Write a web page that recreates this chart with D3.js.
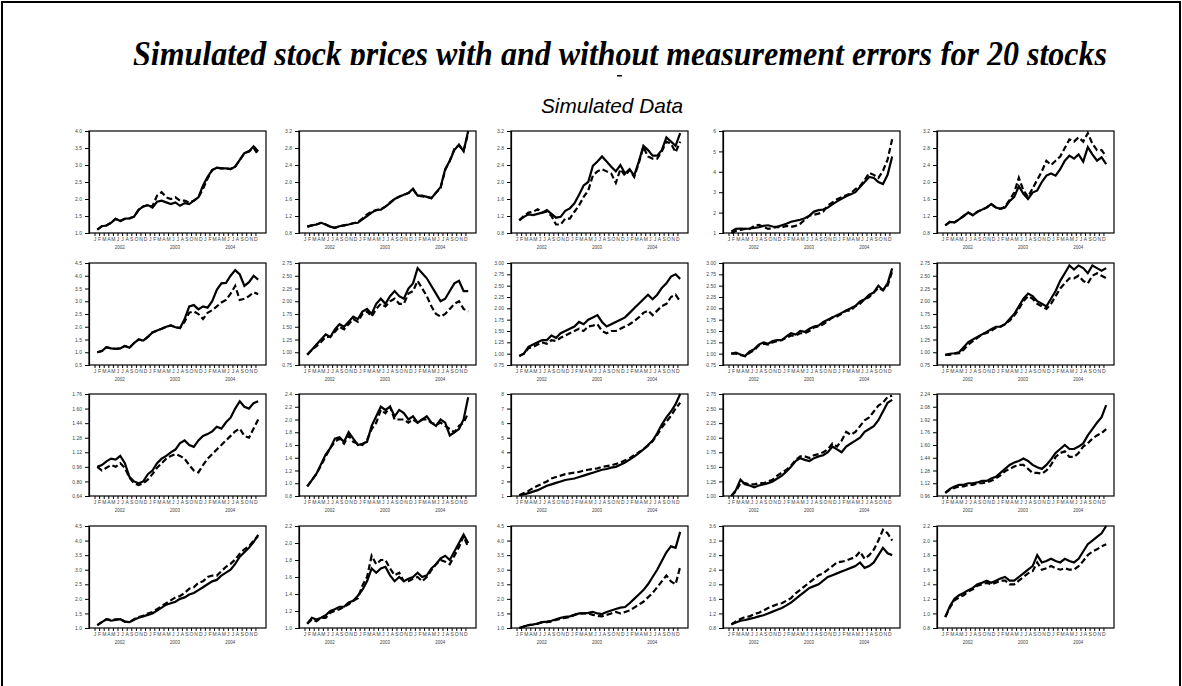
<!DOCTYPE html>
<html>
<head>
<meta charset="utf-8">
<script src="https://cdn.jsdelivr.net/npm/d3@7/dist/d3.min.js"></script>
<style>
  body { margin: 0; background: #fff; }
  text { font-family: "Liberation Sans", Arial, sans-serif; }
</style>
</head>
<body>
<svg id="chart" width="1182" height="686"></svg>
<script>
var months = ["J","F","M","A","M","J","J","A","S","O","N","D"];
var years = ["2002","2003","2004"];

// y tick values of the 20 panels (row by row)
var yTicks = [
  [1.0,1.5,2.0,2.5,3.0,3.5,4.0],
  [0.8,1.2,1.6,2.0,2.4,2.8,3.2],
  [0.8,1.2,1.6,2.0,2.4,2.8,3.2],
  [1,2,3,4,5,6],
  [0.8,1.2,1.6,2.0,2.4,2.8,3.2],
  [0.5,1.0,1.5,2.0,2.5,3.0,3.5,4.0,4.5],
  [0.75,1.00,1.25,1.50,1.75,2.00,2.25,2.50,2.75],
  [0.75,1.00,1.25,1.50,1.75,2.00,2.25,2.50,2.75,3.00],
  [0.75,1.00,1.25,1.50,1.75,2.00,2.25,2.50,2.75,3.00],
  [0.75,1.00,1.25,1.50,1.75,2.00,2.25,2.50,2.75],
  [0.64,0.80,0.96,1.12,1.28,1.44,1.60,1.76],
  [0.8,1.0,1.2,1.4,1.6,1.8,2.0,2.2,2.4],
  [1,2,3,4,5,6,7,8],
  [1.00,1.25,1.50,1.75,2.00,2.25,2.50,2.75],
  [0.96,1.12,1.28,1.44,1.60,1.76,1.92,2.08,2.24],
  [1.0,1.5,2.0,2.5,3.0,3.5,4.0,4.5],
  [1.0,1.2,1.4,1.6,1.8,2.0,2.2],
  [1.0,1.5,2.0,2.5,3.0,3.5,4.0,4.5],
  [0.8,1.2,1.6,2.0,2.4,2.8,3.2,3.6],
  [0.8,1.0,1.2,1.4,1.6,1.8,2.0,2.2]
];
var yFormats = [".1f",".1f",".1f","d",".1f",".1f",".2f",".2f",".2f",".2f",
                ".2f",".1f","d",".2f",".2f",".1f",".1f",".1f",".1f",".1f"];

// monthly prices, Jan 2002 .. Dec 2004 : true (solid) and with errors (dashed)
var true01 = [1.1,1.2,1.22,1.3,1.42,1.35,1.42,1.43,1.48,1.68,1.78,1.82,1.75,1.92,1.95,1.9,1.85,1.9,1.8,1.88,1.85,1.95,2.05,2.4,2.65,2.85,2.92,2.9,2.9,2.88,2.95,3.15,3.35,3.4,3.55,3.4];
var obs01  = [1.1,1.2,1.22,1.3,1.42,1.35,1.42,1.43,1.48,1.68,1.78,1.82,1.78,2.1,2.2,2.05,2.0,2.05,1.95,1.95,1.9,1.95,2.05,2.3,2.6,2.85,2.92,2.9,2.9,2.88,2.95,3.15,3.35,3.4,3.5,3.3];
var true02 = [0.95,0.98,1.0,1.04,1.0,0.95,0.92,0.96,0.98,1.0,1.03,1.04,1.12,1.2,1.28,1.34,1.35,1.42,1.5,1.6,1.65,1.7,1.74,1.84,1.68,1.68,1.65,1.62,1.75,1.88,2.3,2.5,2.75,2.88,2.72,3.2];
var obs02  = [0.95,0.98,1.0,1.04,1.0,0.95,0.92,0.96,0.98,1.0,1.03,1.06,1.14,1.24,1.3,1.34,1.36,1.42,1.52,1.6,1.66,1.7,1.74,1.82,1.68,1.66,1.65,1.62,1.75,1.86,2.28,2.5,2.78,2.86,2.74,3.15];
var true03 = [1.1,1.18,1.24,1.22,1.25,1.28,1.34,1.25,1.16,1.18,1.32,1.38,1.5,1.7,1.92,2.0,2.38,2.48,2.6,2.48,2.36,2.25,2.4,2.2,2.3,2.15,2.48,2.85,2.75,2.62,2.62,2.75,3.05,2.95,2.85,3.15];
var obs03  = [1.1,1.2,1.28,1.3,1.36,1.28,1.3,1.2,1.0,1.0,1.14,1.14,1.3,1.45,1.65,1.8,2.15,2.25,2.3,2.25,2.2,1.98,2.3,2.15,2.28,2.12,2.45,2.82,2.6,2.55,2.55,2.72,2.95,2.9,2.7,2.95];
var true04 = [1.08,1.2,1.22,1.2,1.22,1.25,1.28,1.35,1.38,1.32,1.3,1.38,1.45,1.55,1.6,1.65,1.72,1.85,2.05,2.12,2.15,2.25,2.4,2.55,2.68,2.8,2.9,3.0,3.25,3.5,3.75,3.7,3.5,3.4,3.85,4.75];
var obs04  = [1.0,1.1,1.15,1.2,1.2,1.35,1.4,1.3,1.2,1.25,1.3,1.28,1.35,1.3,1.35,1.45,1.65,1.85,1.9,1.95,2.05,2.35,2.5,2.65,2.75,2.85,2.95,3.15,3.3,3.6,3.95,3.85,3.7,4.05,4.6,5.6];
var true05 = [0.98,1.06,1.05,1.12,1.2,1.28,1.22,1.3,1.35,1.4,1.48,1.4,1.37,1.4,1.55,1.65,1.9,1.72,1.6,1.75,1.8,2.0,2.15,2.2,2.15,2.3,2.5,2.62,2.55,2.65,2.48,2.82,2.65,2.5,2.58,2.42];
var obs05  = [0.98,1.06,1.05,1.12,1.2,1.28,1.22,1.3,1.35,1.4,1.48,1.4,1.37,1.42,1.58,1.75,2.1,1.8,1.65,1.85,2.05,2.25,2.5,2.4,2.5,2.6,2.8,3.0,2.95,3.05,2.95,3.15,2.9,2.75,2.75,2.6];
var true06 = [1.0,1.05,1.2,1.15,1.13,1.15,1.25,1.18,1.36,1.5,1.46,1.6,1.78,1.85,1.92,2.0,2.05,1.98,1.95,2.3,2.8,2.85,2.68,2.8,2.75,3.0,3.45,3.7,3.72,4.0,4.22,4.05,3.6,3.75,4.0,3.85];
var obs06  = [1.0,1.05,1.2,1.15,1.13,1.15,1.25,1.18,1.36,1.5,1.46,1.6,1.78,1.85,1.92,2.0,2.05,1.98,1.95,2.2,2.55,2.6,2.5,2.3,2.55,2.65,2.8,2.95,3.05,3.3,3.6,3.05,3.1,3.2,3.35,3.28];
var true07 = [0.95,1.05,1.15,1.25,1.35,1.3,1.45,1.55,1.5,1.6,1.7,1.65,1.8,1.85,1.75,1.95,2.05,1.95,2.1,2.2,2.1,2.05,2.25,2.35,2.65,2.55,2.45,2.3,2.15,2.0,2.05,2.2,2.35,2.4,2.2,2.2];
var obs07  = [0.95,1.05,1.12,1.2,1.3,1.3,1.4,1.5,1.45,1.55,1.65,1.6,1.75,1.8,1.7,1.85,1.95,1.9,2.0,2.05,1.95,1.95,2.15,2.2,2.4,2.25,2.1,1.9,1.75,1.7,1.75,1.85,1.95,2.0,1.85,1.8];
var true08 = [0.95,1.0,1.15,1.2,1.25,1.3,1.3,1.4,1.35,1.45,1.5,1.55,1.6,1.7,1.65,1.75,1.8,1.85,1.7,1.6,1.65,1.7,1.75,1.8,1.9,2.0,2.1,2.2,2.3,2.2,2.3,2.45,2.55,2.7,2.75,2.65];
var obs08  = [0.95,1.0,1.12,1.15,1.2,1.25,1.22,1.3,1.28,1.35,1.4,1.45,1.5,1.55,1.5,1.6,1.62,1.65,1.5,1.45,1.5,1.5,1.55,1.6,1.65,1.72,1.8,1.9,1.95,1.85,1.95,2.05,2.1,2.25,2.3,2.15];
var true09 = [1.0,1.02,0.98,0.95,1.05,1.1,1.2,1.25,1.22,1.28,1.3,1.3,1.38,1.45,1.42,1.5,1.48,1.55,1.6,1.62,1.7,1.75,1.8,1.85,1.9,1.95,2.0,2.05,2.15,2.2,2.3,2.35,2.5,2.4,2.55,2.88];
var obs09  = [1.0,1.0,0.97,0.94,1.02,1.08,1.18,1.22,1.2,1.25,1.28,1.3,1.35,1.4,1.4,1.45,1.45,1.5,1.58,1.6,1.65,1.72,1.8,1.82,1.88,1.95,1.95,2.05,2.1,2.2,2.25,2.35,2.45,2.4,2.5,2.82];
var true10 = [0.95,0.97,0.98,1.0,1.1,1.2,1.25,1.3,1.35,1.4,1.45,1.5,1.5,1.55,1.65,1.75,1.9,2.05,2.15,2.1,2.0,1.95,1.9,2.05,2.2,2.4,2.55,2.7,2.62,2.7,2.65,2.55,2.7,2.65,2.6,2.65];
var obs10  = [0.95,0.95,0.97,0.98,1.05,1.15,1.22,1.28,1.35,1.38,1.42,1.48,1.5,1.55,1.62,1.72,1.85,2.0,2.1,2.05,1.95,1.9,1.85,1.95,2.1,2.25,2.35,2.45,2.45,2.5,2.4,2.35,2.5,2.55,2.5,2.45];
var true11 = [0.96,0.98,1.02,1.05,1.04,1.08,1.0,0.85,0.8,0.78,0.8,0.88,0.92,1.0,1.05,1.08,1.12,1.15,1.22,1.25,1.2,1.18,1.25,1.3,1.32,1.35,1.4,1.38,1.45,1.5,1.6,1.68,1.62,1.6,1.66,1.68];
var obs11  = [0.96,0.92,0.95,0.98,0.96,1.0,0.95,0.84,0.78,0.76,0.78,0.82,0.88,0.95,1.0,1.05,1.08,1.1,1.08,1.05,0.98,0.92,0.9,0.98,1.05,1.1,1.15,1.2,1.25,1.3,1.35,1.38,1.3,1.28,1.38,1.48];
var true12 = [0.95,1.05,1.15,1.3,1.45,1.55,1.7,1.72,1.65,1.8,1.7,1.6,1.62,1.65,1.9,2.05,2.2,2.15,2.2,2.05,2.15,2.1,2.0,2.05,1.95,2.0,2.05,1.95,1.9,2.0,1.95,1.75,1.8,1.85,2.0,2.35];
var obs12  = [0.95,1.05,1.15,1.28,1.42,1.55,1.65,1.7,1.62,1.75,1.65,1.62,1.6,1.68,1.85,1.95,2.15,2.1,2.2,2.0,2.0,2.0,1.95,2.0,1.95,2.0,2.0,1.95,1.92,1.95,1.9,1.85,1.8,1.9,1.95,2.1];
var true13 = [1.05,1.1,1.2,1.3,1.4,1.55,1.7,1.8,1.9,2.0,2.1,2.15,2.2,2.3,2.4,2.5,2.6,2.7,2.8,2.85,2.95,3.0,3.15,3.3,3.5,3.7,3.95,4.2,4.5,4.8,5.3,5.9,6.4,6.8,7.3,8.0];
var obs13  = [1.05,1.2,1.35,1.55,1.7,1.85,2.0,2.2,2.3,2.4,2.5,2.55,2.6,2.65,2.75,2.8,2.85,2.9,3.0,3.05,3.1,3.2,3.3,3.45,3.6,3.8,4.0,4.2,4.45,4.75,5.2,5.7,6.1,6.5,7.0,7.4];
var true14 = [1.0,1.1,1.28,1.2,1.18,1.15,1.18,1.2,1.22,1.25,1.3,1.35,1.42,1.5,1.6,1.65,1.62,1.6,1.65,1.68,1.7,1.75,1.85,1.8,1.75,1.85,1.9,1.95,2.0,2.1,2.15,2.2,2.3,2.45,2.6,2.65];
var obs14  = [1.0,1.08,1.22,1.22,1.2,1.2,1.22,1.22,1.25,1.28,1.35,1.4,1.45,1.52,1.62,1.68,1.68,1.65,1.7,1.72,1.75,1.8,1.9,1.85,1.95,2.1,2.05,2.1,2.2,2.3,2.35,2.45,2.55,2.6,2.7,2.72];
var true15 = [1.0,1.05,1.08,1.1,1.1,1.12,1.12,1.13,1.15,1.15,1.18,1.2,1.25,1.3,1.35,1.38,1.4,1.43,1.4,1.35,1.32,1.3,1.35,1.42,1.5,1.55,1.6,1.55,1.55,1.58,1.62,1.72,1.8,1.88,1.95,2.1];
var obs15  = [1.0,1.04,1.06,1.08,1.08,1.1,1.1,1.12,1.12,1.13,1.15,1.18,1.22,1.27,1.3,1.33,1.35,1.35,1.3,1.25,1.25,1.24,1.28,1.35,1.45,1.5,1.52,1.45,1.45,1.5,1.58,1.62,1.68,1.72,1.75,1.8];
var true16 = [1.1,1.2,1.3,1.25,1.28,1.3,1.22,1.2,1.28,1.35,1.4,1.45,1.5,1.6,1.7,1.8,1.85,1.9,2.0,2.05,2.15,2.2,2.3,2.4,2.5,2.6,2.65,2.8,2.9,3.0,3.2,3.45,3.6,3.75,3.95,4.2];
var obs16  = [1.1,1.2,1.3,1.28,1.3,1.3,1.22,1.2,1.3,1.38,1.42,1.5,1.55,1.65,1.75,1.85,1.95,2.05,2.1,2.2,2.35,2.4,2.55,2.6,2.75,2.8,2.8,2.95,3.1,3.2,3.35,3.55,3.7,3.8,4.0,4.15];
var true17 = [1.05,1.12,1.1,1.12,1.15,1.2,1.22,1.25,1.25,1.3,1.32,1.38,1.45,1.55,1.7,1.65,1.7,1.72,1.62,1.55,1.6,1.55,1.58,1.6,1.65,1.6,1.62,1.7,1.75,1.82,1.85,1.8,1.9,2.0,2.1,2.0];
var obs17  = [1.05,1.1,1.08,1.12,1.12,1.18,1.2,1.22,1.25,1.28,1.32,1.35,1.5,1.6,1.85,1.75,1.8,1.8,1.7,1.62,1.65,1.55,1.55,1.58,1.6,1.55,1.6,1.68,1.75,1.8,1.78,1.75,1.85,1.95,2.08,1.95];
var true18 = [1.0,1.05,1.1,1.12,1.15,1.2,1.22,1.25,1.3,1.35,1.38,1.4,1.45,1.5,1.5,1.52,1.55,1.5,1.48,1.55,1.6,1.65,1.7,1.72,1.85,2.0,2.15,2.3,2.5,2.75,3.0,3.3,3.6,3.8,3.75,4.3];
var obs18  = [1.0,1.05,1.1,1.12,1.15,1.2,1.2,1.22,1.28,1.32,1.35,1.38,1.45,1.5,1.5,1.5,1.45,1.42,1.4,1.45,1.5,1.55,1.5,1.55,1.6,1.7,1.8,1.9,2.05,2.2,2.4,2.6,2.8,2.6,2.5,3.1];
var true19 = [0.9,0.95,1.0,1.02,1.05,1.08,1.12,1.15,1.2,1.25,1.3,1.35,1.42,1.5,1.6,1.7,1.8,1.9,1.95,2.0,2.1,2.2,2.25,2.3,2.35,2.4,2.45,2.5,2.6,2.45,2.5,2.6,2.8,3.0,2.85,2.8];
var obs19  = [0.9,0.98,1.05,1.1,1.12,1.18,1.22,1.28,1.35,1.4,1.45,1.48,1.55,1.62,1.75,1.85,1.95,2.05,2.15,2.25,2.3,2.4,2.5,2.6,2.62,2.65,2.7,2.75,2.9,2.7,2.8,2.95,3.2,3.5,3.4,3.2];
var true20 = [0.95,1.1,1.2,1.25,1.28,1.32,1.35,1.4,1.42,1.45,1.42,1.45,1.48,1.5,1.45,1.45,1.5,1.55,1.6,1.65,1.8,1.7,1.72,1.75,1.72,1.7,1.75,1.72,1.7,1.75,1.85,1.95,2.0,2.05,2.1,2.2];
var obs20  = [0.95,1.08,1.18,1.22,1.25,1.3,1.33,1.38,1.4,1.42,1.4,1.42,1.45,1.45,1.4,1.4,1.45,1.5,1.55,1.58,1.7,1.6,1.62,1.65,1.62,1.6,1.62,1.6,1.6,1.65,1.72,1.8,1.85,1.88,1.92,1.95];

var trueSeries = [true01,true02,true03,true04,true05,true06,true07,true08,true09,true10,
                  true11,true12,true13,true14,true15,true16,true17,true18,true19,true20];
var obsSeries  = [obs01,obs02,obs03,obs04,obs05,obs06,obs07,obs08,obs09,obs10,
                  obs11,obs12,obs13,obs14,obs15,obs16,obs17,obs18,obs19,obs20];

var svg = d3.select("#chart");

// outer frame
svg.append("path")
  .attr("d", "M2,690V2H1180V690")
  .attr("fill", "none")
  .attr("stroke", "#000")
  .attr("stroke-width", 2);

// title, bottom cut off like in the original
svg.append("clipPath").attr("id", "titleClip")
  .append("rect").attr("x", 0).attr("y", 0).attr("width", 1182).attr("height", 65);
svg.append("text")
  .attr("clip-path", "url(#titleClip)")
  .attr("x", 133).attr("y", 66)
  .attr("textLength", 974).attr("lengthAdjust", "spacingAndGlyphs")
  .style("font-family", "'Liberation Serif','Times New Roman',serif")
  .style("font-style", "italic").style("font-weight", "bold")
  .style("font-size", "35px")
  .text("Simulated stock prices with and without measurement errors for 20 stocks");
svg.append("rect").attr("x", 617).attr("y", 75).attr("width", 5).attr("height", 1.5).attr("fill", "#000");

svg.append("text")
  .attr("x", 541).attr("y", 113)
  .attr("textLength", 142).attr("lengthAdjust", "spacingAndGlyphs")
  .style("font-style", "italic").style("font-size", "21px")
  .text("Simulated Data");

var colLeft = [89, 299, 511, 723, 937];
var rowTop = [131, 263, 394, 526];
var pw = 177, ph = 102;

var x = d3.scaleLinear().domain([-1.2, 37.3]).range([0, pw]);
var monthIdx = d3.range(36);

for (var p = 0; p < 20; p++) {
  var g = svg.append("g")
    .attr("transform", "translate(" + colLeft[p % 5] + "," + rowTop[Math.floor(p / 5)] + ")");
  var ticks = yTicks[p];
  var y = d3.scaleLinear().domain([ticks[0], ticks[ticks.length - 1]]).range([ph, 0]);

  var line = d3.line()
    .x(function(d, i) { return x(i + 0.6); })
    .y(function(d) { return y(d); });

  g.append("path").datum(obsSeries[p])
    .attr("d", line).attr("fill", "none").attr("stroke", "#000")
    .attr("stroke-width", 2.2).attr("stroke-dasharray", "6,3");
  g.append("path").datum(trueSeries[p])
    .attr("d", line).attr("fill", "none").attr("stroke", "#000")
    .attr("stroke-width", 2.2);

  g.append("rect").attr("width", pw).attr("height", ph)
    .attr("fill", "none").attr("stroke", "#000").attr("stroke-width", 1.2);

  // y axis
  var yAxis = d3.axisLeft(y).tickValues(ticks).tickSize(4).tickPadding(3)
    .tickFormat(d3.format(yFormats[p]));
  var ya = g.append("g").call(yAxis);
  ya.select(".domain").attr("stroke-width", 1.2);
  ya.selectAll("text").style("font-size", "5px").attr("fill", "#444");

  // month axis
  var xAxis = d3.axisBottom(x).tickValues(monthIdx).tickSize(3).tickPadding(1.5)
    .tickFormat(function(d) { return months[d % 12]; });
  var xa = g.append("g").attr("transform", "translate(0," + ph + ")").call(xAxis);
  xa.select(".domain").remove();
  xa.selectAll("text").style("font-size", "5px").attr("fill", "#444");

  g.selectAll(".yr").data(years).enter().append("text")
    .attr("x", function(d, i) { return x(i * 12 + 5.5); })
    .attr("y", ph + 16)
    .attr("text-anchor", "middle")
    .style("font-size", "4.5px").attr("fill", "#444")
    .text(function(d) { return d; });
}
</script>
</body>
</html>
